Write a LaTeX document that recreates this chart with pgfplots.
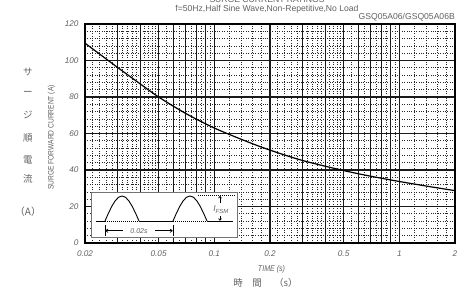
\documentclass[border=0pt]{standalone}
\usepackage{fontspec}
\setmainfont{Liberation Sans}
\newfontfamily\cjk{Noto Sans CJK JP}
\usepackage{graphicx}
\usepackage{pgfplots}
\pgfplotsset{compat=1.18}
\usetikzlibrary{arrows.meta}
\definecolor{txt}{gray}{0.38}

\begin{document}
\begin{tikzpicture}
\begin{axis}[
  at={(85pt,46pt)}, anchor=south west, scale only axis, width=370pt, height=219pt,
  xmode=log, xmin=0.02, xmax=2, ymin=0, ymax=120,
  xtick={0.02,0.03,0.04,0.05,0.06,0.07,0.08,0.09,0.1,0.2,0.3,0.4,0.5,0.6,0.7,0.8,0.9,1,2},
  xticklabels={0.02,,,0.05,,,,,0.1,0.2,,,0.5,,,,,1,2},
  minor xtick={0.022,0.024,0.026,0.028,0.032,0.034,0.036,0.038,0.042,0.044,0.046,0.048,0.055,0.065,0.075,0.085,0.095,
    0.12,0.14,0.16,0.18,0.22,0.24,0.26,0.28,0.32,0.34,0.36,0.38,0.42,0.44,0.46,0.48,0.55,0.65,0.75,0.85,0.95,
    1.2,1.4,1.6,1.8},
  ytick={0,20,...,120},
  minor ytick={4,8,12,16,24,28,32,36,44,48,52,56,64,68,72,76,84,88,92,96,104,108,112,116},
  grid=both,
  major grid style={black!90, line width=1.2pt},
  minor grid style={black!85, line width=0.75pt, dash pattern=on 1pt off 1.4pt},
  axis line style={black, line width=1.8pt},
  tick style={draw=none},
  major tick length=0pt, minor tick length=0pt,
  /pgf/number format/assume math mode=true,
  ticklabel style={font=\fontsize{8.2}{9}\selectfont\itshape, text=txt},
  xticklabel style={yshift=-4pt},
  yticklabel style={xshift=-3pt},
]
\addplot[black, line width=1.2pt, smooth] coordinates {
  (0.02,109.5)(0.03,96.2)(0.04,87)(0.05,80)(0.07,71)(0.1,63)(0.15,55.6)
  (0.2,50.9)(0.3,45.2)(0.5,39.7)(0.7,36.6)(1,33.7)(1.5,30.7)(2,28.7)};
\end{axis}

% inset
\begin{axis}[
  at={(91pt,52pt)}, anchor=south west, scale only axis, width=146pt, height=45pt,
  xmin=91, xmax=237, ymin=52, ymax=97, ticks=none,
  axis line style={black!55, line width=0.9pt},
  axis background/.style={fill=white}, clip=false,
]
\addplot[black, line width=0.9pt] coordinates {(105,68)(108.4,75.7)(111.8,82.7)(115.2,88.2)(118.6,91.8)(122,93)(125.4,91.8)(128.8,88.2)(132.2,82.7)(135.6,75.7)(139,68)};
\addplot[black, line width=0.9pt] coordinates {(173,68)(176.4,75.7)(179.8,82.7)(183.2,88.2)(186.6,91.8)(190,93)(193.4,91.8)(196.8,88.2)(200.2,82.7)(203.6,75.7)(207,68)};
\addplot[black, line width=0.8pt] coordinates {(96,68)(105,68)};
\addplot[black, line width=0.8pt] coordinates {(139,68)(173,68)};
\addplot[black, line width=0.8pt] coordinates {(207,68)(233,68)};
\addplot[black, line width=0.7pt, dash pattern=on 1pt off 1pt] coordinates {(105,68)(139,68)};
\addplot[black, line width=0.7pt, dash pattern=on 1pt off 1pt] coordinates {(173,68)(207,68)};
\addplot[black, line width=0.7pt, dash pattern=on 1pt off 1pt] coordinates {(198,93.5)(236,93.5)};
\addplot[black, line width=0.7pt] coordinates {(105,53)(105,63.5)};
\addplot[black, line width=0.7pt] coordinates {(173,53)(173,63.5)};
\addplot[black, line width=0.7pt, -{To[length=3pt,width=4pt]}] coordinates {(123,58.3)(105.3,58.3)};
\addplot[black, line width=0.7pt, -{To[length=3pt,width=4pt]}] coordinates {(155,58.3)(172.7,58.3)};
\addplot[black, line width=0.7pt, -{To[length=2.5pt,width=3.5pt]}] coordinates {(220,86)(220,93)};
\addplot[black, line width=0.7pt, -{To[length=2.5pt,width=3.5pt]}] coordinates {(220,73)(220,68.3)};
\node[font=\fontsize{7}{8}\selectfont\itshape, text=txt] at (axis cs:139,58.3) {0.02s};
\node[font=\fontsize{8.5}{9}\selectfont\itshape, text=txt, fill=white, inner sep=0.3pt] at (axis cs:221,79.5) {I\textsubscript{FSM}};
\end{axis}

% texts
\node[font=\fontsize{8.6}{9}\selectfont, text=txt, anchor=base] at (267pt,286pt) {SURGE CURRENT RATINGS};
\node[font=\fontsize{8.6}{9}\selectfont, text=txt] at (267pt,280pt) {f=50Hz,Half Sine Wave,Non-Repetitive,No Load};
\node[font=\fontsize{8.6}{9}\selectfont, text=txt, anchor=base east, inner sep=0pt] at (455pt,269pt) {GSQ05A06/GSQ05A06B};
\node[font=\fontsize{8}{9}\selectfont, text=txt, rotate=90] at (51.5pt,151.5pt) {\scalebox{0.83}[1]{SURGE FORWARD CURRENT (A)}};
\node[font=\fontsize{8.3}{9}\selectfont\itshape, text=txt] at (271.5pt,20pt) {\scalebox{0.85}[1]{TIME (s)}};
\node[font=\fontsize{9.5}{10}\selectfont\cjk, text=txt] at (265.5pt,6pt) {時\hspace{1em}間\hspace{1.3em}（s）};
\foreach \ch/\yy in {サ/217, ー/196, ジ/174, 順/151, 電/129, 流/110}
  \node[font=\fontsize{9.5}{10}\selectfont\cjk, text=txt] at (28pt,\yy pt) {\ch};
\node[font=\fontsize{10}{10}\selectfont\cjk, text=txt] at (28pt,77pt) {（A）};

\pgfresetboundingbox
\useasboundingbox (0pt,0pt) rectangle (467pt,289pt);
\end{tikzpicture}
\end{document}
